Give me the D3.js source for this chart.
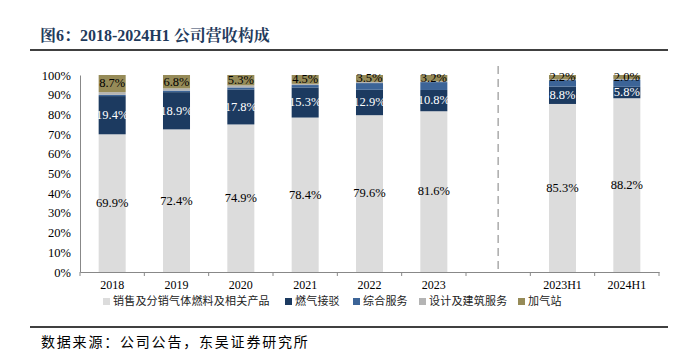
<!DOCTYPE html>
<html>
<head>
<meta charset="utf-8">
<script src="https://cdn.jsdelivr.net/npm/d3@7"></script>
<style>
  body { margin: 0; background: #fff; }
</style>
</head>
<body>
<div id="chart"></div>
<script>
// categories (blank slot separates the full years from the half years)
const categories = ["2018", "2019", "2020", "2021", "2022", "2023", "", "2023H1", "2024H1"];
const seriesNames = ["销售及分销气体燃料及相关产品", "燃气接驳", "综合服务", "设计及建筑服务", "加气站"];
const sales    = [69.9, 72.4, 74.9, 78.4, 79.6, 81.6, null, 85.3, 88.2];
const connect  = [19.4, 18.9, 17.8, 15.3, 12.9, 10.8, null, 8.8, 5.8];
const service  = [0.6, 0.8, 1.0, 1.2, 3.4, 4.0, null, 3.3, 3.6];
const design   = [1.4, 1.1, 1.0, 0.6, 0.6, 0.4, null, 0.4, 0.4];
const station  = [8.7, 6.8, 5.3, 4.5, 3.5, 3.2, null, 2.2, 2.0];
const yTicks = [0, 10, 20, 30, 40, 50, 60, 70, 80, 90, 100];

const colors = ["#dcdcdc", "#1c3a60", "#3c6497", "#b4b4b4", "#968b58"];
const labelColors = ["#000", "#fff", null, null, "#000"];

const W = 693, H = 352;

const svg = d3.select("#chart").append("svg")
    .attr("width", W)
    .attr("height", H);

const serif = "'Liberation Serif', 'Times New Roman', serif";
const cjk = "'Noto Sans CJK SC', sans-serif";

//title
svg.append("text")
    .attr("x", 40)
    .attr("y", 41)
    .style("font-family", "'Liberation Serif', 'Noto Serif CJK SC', 'Noto Sans CJK SC', serif")
    .style("font-weight", "bold")
    .style("font-size", "16px")
    .style("fill", "#1f3a5c")
    .text("图6：2018-2024H1 公司营收构成");

svg.append("line")
    .attr("x1", 30).attr("x2", 668)
    .attr("y1", 50).attr("y2", 50)
    .style("stroke", "#000").style("stroke-width", 1.5);

svg.append("line")
    .attr("x1", 30).attr("x2", 668)
    .attr("y1", 327).attr("y2", 327)
    .style("stroke", "#000").style("stroke-width", 1.5);

svg.append("text")
    .attr("x", 41)
    .attr("y", 347)
    .style("font-family", cjk)
    .style("font-size", "14px")
    .style("letter-spacing", "1.8px")
    .style("fill", "#000")
    .text("数据来源：公司公告，东吴证券研究所");

const g = svg.append("g");

const x = d3.scaleBand()
    .domain(categories.map((d, i) => i))
    .range([80, 659])
    .paddingInner(0)
    .paddingOuter(0);

const y = d3.scaleLinear()
    .domain([0, 100])
    .range([272, 75]);

//y axis
const yAxis = g.append("g")
    .attr("transform", "translate(80,0)")
    .call(d3.axisLeft(y).tickValues(yTicks).tickFormat(d => d + "%").tickSize(0).tickPadding(9));
yAxis.select(".domain").style("stroke", "#888");
yAxis.selectAll("text")
    .style("font-family", serif)
    .style("font-size", "12.5px")
    .style("fill", "#000");

//x axis
const xAxis = g.append("g")
    .attr("transform", "translate(0,272)")
    .call(d3.axisBottom(x).tickFormat(i => categories[i]).tickSize(0).tickPadding(8));
xAxis.select(".domain").style("stroke", "#888");
xAxis.selectAll("text")
    .style("font-family", serif)
    .style("font-size", "12px")
    .style("fill", "#000");

//tick marks between bands
const bounds = d3.range(categories.length + 1).map(i => 80 + i * x.bandwidth());
g.selectAll(".xtick").data(bounds).enter()
    .append("line")
    .attr("x1", d => d).attr("x2", d => d)
    .attr("y1", 272).attr("y2", 276)
    .style("stroke", "#888");

//stack
const table = categories.map((c, i) => ({
    i: i,
    s0: sales[i], s1: connect[i], s2: service[i], s3: design[i], s4: station[i]
})).filter(d => d.s0 !== null);

const keys = ["s0", "s1", "s2", "s3", "s4"];
const stacked = d3.stack().keys(keys)(table);

const barW = x.bandwidth() * 0.42;

stacked.forEach((layer, k) => {
    g.selectAll(".bar" + k).data(layer).enter()
        .append("rect")
        .attr("x", d => x(d.data.i) + (x.bandwidth() - barW) / 2)
        .attr("y", d => y(d[1]))
        .attr("width", barW)
        .attr("height", d => y(d[0]) - y(d[1]))
        .style("fill", colors[k]);
});

stacked.forEach((layer, k) => {
    if (!labelColors[k]) return;
    g.selectAll(".lab" + k).data(layer).enter()
        .append("text")
        .attr("x", d => x(d.data.i) + x.bandwidth() / 2)
        .attr("y", d => y((d[0] + d[1]) / 2) + 1)
        .attr("text-anchor", "middle")
        .attr("dominant-baseline", "middle")
        .style("font-family", serif)
        .style("font-size", "12.5px")
        .style("fill", labelColors[k])
        .text(d => d.data[keys[k]].toFixed(1) + "%");
});

//dashed separator
g.append("line")
    .attr("x1", x(6) + x.bandwidth() / 2)
    .attr("x2", x(6) + x.bandwidth() / 2)
    .attr("y1", 66).attr("y2", 273)
    .style("stroke", "#aaa")
    .style("stroke-width", 1.5)
    .style("stroke-dasharray", "8,5");

//legend
const legendX = [103, 285, 353, 419, 518];
const legend = svg.selectAll(".legend").data(seriesNames).enter()
    .append("g")
    .attr("transform", (d, i) => "translate(" + legendX[i] + ",302)");
legend.append("rect")
    .attr("x", 0).attr("y", -4)
    .attr("width", 7).attr("height", 7)
    .style("fill", (d, i) => colors[i]);
legend.append("text")
    .attr("x", 10)
    .attr("y", 0)
    .attr("dominant-baseline", "middle")
    .style("font-family", cjk)
    .style("font-size", "11px")
    .style("letter-spacing", "0.2px")
    .style("fill", "#222")
    .text(d => d);
</script>
</body>
</html>
